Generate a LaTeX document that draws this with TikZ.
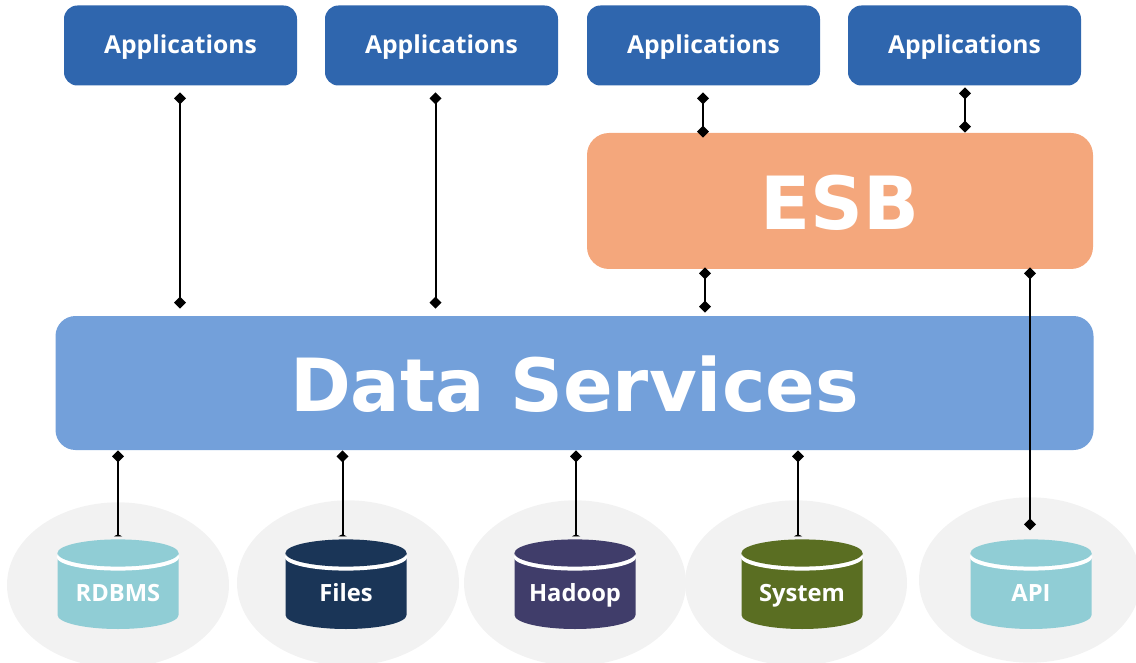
\documentclass[tikz,border=0pt]{standalone}
\usepackage{fontspec}
\setmainfont{Open Sans}
\newfontfamily\heavyfont{DejaVu Sans}
\usetikzlibrary{arrows.meta}
\definecolor{appblue}{HTML}{2F66AE}
\definecolor{esborange}{HTML}{F4A77C}
\definecolor{dsblue}{HTML}{73A0DA}
\definecolor{halo}{HTML}{F2F2F2}
\definecolor{teal}{HTML}{90CDD5}
\definecolor{navy}{HTML}{1A3557}
\definecolor{plum}{HTML}{403D6A}
\definecolor{moss}{HTML}{5A6E22}
\tikzset{
  x=0.75pt,y=-0.75pt,
  appbox/.style={fill=appblue,rounded corners=10pt,inner sep=0pt,minimum width=174.75pt,minimum height=60pt,text=white,text height=16.5pt,text depth=4.5pt,font=\fontsize{18.5}{22}\selectfont\bfseries},
  bigbox/.style={inner sep=0pt,text=white,text depth=0pt,font=\heavyfont\bfseries\fontsize{55}{60}\selectfont},
  halodisc/.style={fill=halo},
  link/.style={line width=1.5pt,black,{Diamond[length=9pt,width=9pt]}-{Diamond[length=9pt,width=9pt]}},
  dblink/.style={line width=1.5pt,black,{Diamond[length=9pt,width=9pt]}-{Triangle[reversed,length=1.5pt,width=6pt]}},
  dblabel/.style={text=white,inner sep=0pt,text height=17.5pt,text depth=4pt,font=\fontsize{17.8}{20}\selectfont\bfseries},
}
% centre x of halo, centre y of halo, centre x of cylinder, colour, name, text
\newcommand{\dbunit}[6]{%
  \fill[halodisc] (#1,#2) ellipse [x radius=83.25pt,y radius=62pt];
  \fill[#4] (#3-60.5,553) -- (#3-60.5,615) arc [start angle=180,end angle=360,x radius=45.4pt,y radius=10.5pt] -- (#3+60.5,553) -- cycle;
  \fill[white] (#3,557) ellipse [x radius=46pt,y radius=10.2pt];
  \fill[#4] (#3,553) ellipse [x radius=45.4pt,y radius=10.2pt];
  \node[dblabel] (#5) at (#3,592) {#6};
}
\begin{document}
\begin{tikzpicture}
\useasboundingbox (0,0) rectangle (1136,663);
\clip (0,0) rectangle (1136,663);
\dbunit{118}{585}{118}{teal}{rdbms}{RDBMS}
\dbunit{348}{583}{346}{navy}{files}{Files}
\dbunit{575}{583}{575}{plum}{hadoop}{Hadoop}
\dbunit{796}{583}{802}{moss}{system}{System}
\dbunit{1030}{580}{1031}{teal}{api}{API}
\node[appbox] (app1) at (180.5,45.5) {Applications};
\node[appbox] (app2) at (441.5,45.5) {Applications};
\node[appbox] (app3) at (703.5,45.5) {Applications};
\node[appbox] (app4) at (964.5,45.5) {Applications};
\node[bigbox,fill=esborange,rounded corners=16.5pt,minimum width=379.5pt,minimum height=102pt,text height=43.5pt] (esb) at (840,201) {ESB};
\node[bigbox,fill=dsblue,rounded corners=15pt,minimum width=778.5pt,minimum height=100.5pt,text height=42pt] (data) at (574.5,383) {Data Services};
\draw[link] ([shift={(-0.5,6.5)}]app1.south) -- ([shift={(-0.5,-7)}]app1.south |- data.north);
\draw[link] ([shift={(-6,6.5)}]app2.south) -- ([shift={(-6,-7)}]app2.south |- data.north);
\draw[link] ([shift={(-0.5,6.5)}]app3.south) -- ([shift={(-0.5,5)}]app3.south |- esb.north);
\draw[link] ([shift={(0.5,1.5)}]app4.south) -- ([shift={(0.5,0)}]app4.south |- esb.north);
\draw[link] ([shift={(-135,-2)}]esb.south) -- ([shift={(-135,-3)}]esb.south |- data.north);
\draw[link] ([shift={(190,-2)}]esb.south) -- ([shift={(-1,-47)}]api.north);
\draw[dblink] ([shift={(-456.5,0)}]data.south) -- ([shift={(-456.5,86)}]data.south);
\draw[dblink] ([shift={(-232,0)}]data.south) -- ([shift={(-232,86)}]data.south);
\draw[dblink] ([shift={(1.5,0)}]data.south) -- ([shift={(1.5,86)}]data.south);
\draw[dblink] ([shift={(223.5,0)}]data.south) -- ([shift={(223.5,86)}]data.south);
\end{tikzpicture}
\end{document}
